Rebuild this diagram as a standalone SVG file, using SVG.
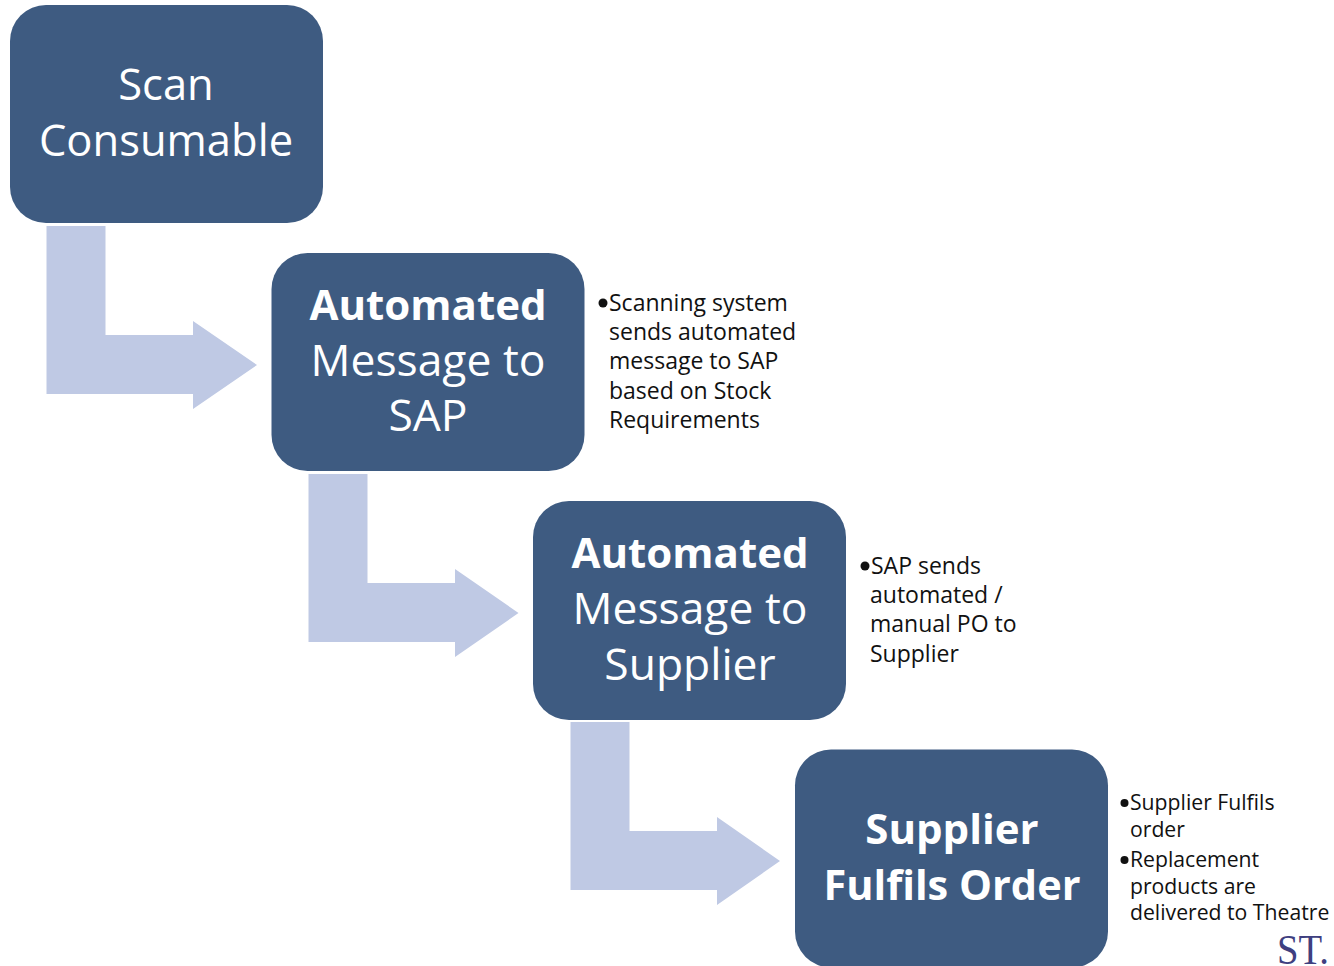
<svg xmlns="http://www.w3.org/2000/svg" width="1334" height="966" viewBox="0 0 1334 966">
<style>
.box{fill:#3e5b81}
.arrow{fill:#bfc9e4}
.t{font-family:"Open Sans","Noto Sans",sans-serif;font-size:43.5px;fill:#fff;text-anchor:middle}
.m{font-size:44.400px}
.b{font-weight:700;font-size:42px}
.s{font-family:"Open Sans","Noto Sans",sans-serif;font-size:23px;fill:#111}
.s2{font-size:21.200px}
.dot{fill:#111}
</style>
<rect width="1334" height="966" fill="#fff"/>
<g id="connectors">
<path class="arrow" d="M46.500 226H105.500V335H193V321L257 365L193 409V394H46.500Z"/>
<path class="arrow" d="M308.500 474H367.500V583H455V569L518.500 613L455 657V642H308.500Z"/>
<path class="arrow" d="M570.500 722H629.500V831H717V817L780 861L717 905V890H570.500Z"/>
</g>
<g id="node1"><rect class="box" x="10" y="5" width="313" height="218" rx="36"/>
<text class="t" x="166" y="100">Scan</text><text class="t" x="166" y="156">Consumable</text></g>
<g id="node2"><rect class="box" x="271.500" y="253" width="313" height="218" rx="36"/>
<text class="t b" x="428" y="320">Automated</text><text class="t m" x="428" y="376">Message to</text><text class="t m" x="428" y="431">SAP</text></g>
<g id="node3"><rect class="box" x="533" y="501" width="313" height="219" rx="36"/>
<text class="t b" x="690" y="568">Automated</text><text class="t m" x="690" y="624">Message to</text><text class="t m" x="690" y="680">Supplier</text></g>
<g id="node4"><rect class="box" x="795" y="749.500" width="313" height="218" rx="36"/>
<text class="t b" x="952" y="844">Supplier</text><text class="t b" x="952" y="900" textLength="257" lengthAdjust="spacingAndGlyphs">Fulfils Order</text></g>
<g id="note1" class="s">
<circle class="dot" cx="603" cy="303" r="4.500"/>
<text x="609" y="311">Scanning system</text><text x="609" y="340">sends automated</text><text x="609" y="369">message to SAP</text><text x="609" y="399">based on Stock</text><text x="609" y="428">Requirements</text></g>
<g id="note2" class="s">
<circle class="dot" cx="865" cy="566" r="4.500"/>
<text x="871" y="574">SAP sends</text><text x="870" y="603">automated /</text><text x="870" y="632">manual PO to</text><text x="870" y="662">Supplier</text></g>
<g id="note3" class="s s2">
<circle class="dot" cx="1124.500" cy="803" r="4"/>
<text x="1130" y="810">Supplier Fulfils</text><text x="1130" y="837">order</text>
<circle class="dot" cx="1124.500" cy="860" r="4"/>
<text x="1130" y="867">Replacement</text><text x="1130" y="894">products are</text><text x="1130" y="920">delivered to Theatre</text></g>
<text id="logo" x="1277" y="964" font-family="Liberation Serif,serif" font-size="43" fill="#3f3f80" textLength="52" lengthAdjust="spacingAndGlyphs">ST.</text>
</svg>
